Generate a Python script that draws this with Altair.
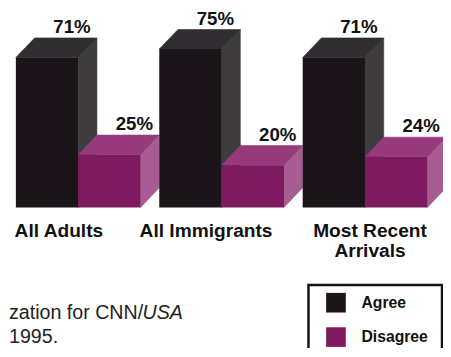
import altair as alt
import pandas as pd

# ---------------- data ----------------
categories = ["All Adults", "All Immigrants", "Most Recent Arrivals"]
label_lines = [["All Adults"], ["All Immigrants"], ["Most Recent", "Arrivals"]]
agree = [71, 75, 71]
disagree = [25, 20, 24]
series = ["Agree", "Disagree"]
note_line1 = ["zation for CNN/", "USA"]
note_line2 = "1995."

# ---------------- layout / style ----------------
W, H = 443, 340
UNIT = 63.5          # px per bar width
X0 = 8               # px offset of first bar
GROUP_STEP = 2.3     # bar widths between group starts
DEPTH_X = 0.3        # depth in bar-width units
DEPTH_Y = 9.3        # depth in percent units
Y_ZERO = 200         # px of the 0 % baseline
PX_PER_PCT = 2.15
LABEL_NUDGE = [-0.03, 0.03, 0.36]

FONT = "Liberation Sans"
colors = {
    "Agree": {"front": "#1b1519", "top": "#302e30", "side": "#3e3c3d"},
    "Disagree": {"front": "#7e1a5f", "top": "#963a7b", "side": "#a85c92"},
}

xs = alt.Scale(domain=[-X0 / UNIT, (W - X0) / UNIT], nice=False, zero=False)
ys = alt.Scale(domain=[-(H - Y_ZERO) / PX_PER_PCT, Y_ZERO / PX_PER_PCT], nice=False, zero=False)

fronts, tops, sides, pct = [], [], [], []
for gi, cat in enumerate(categories):
    g = gi * GROUP_STEP
    for k, (s, v) in enumerate(zip(series, [agree[gi], disagree[gi]])):
        x = g + k
        fid = f"{gi}-{s}"
        fronts.append(dict(x=x, x2=x + 1, y=0, y2=v, fill=colors[s]["front"], series=s))
        tops += [
            dict(face=fid, x=x, y=v, y2=v, fill=colors[s]["top"]),
            dict(face=fid, x=x + DEPTH_X, y=v, y2=v + DEPTH_Y, fill=colors[s]["top"]),
            dict(face=fid, x=x + 1, y=v, y2=v + DEPTH_Y, fill=colors[s]["top"]),
            dict(face=fid, x=x + 1 + DEPTH_X, y=v + DEPTH_Y, y2=v + DEPTH_Y, fill=colors[s]["top"]),
        ]
        sides += [
            dict(face=fid, x=x + 1, y=0, y2=v, fill=colors[s]["side"]),
            dict(face=fid, x=x + 1 + DEPTH_X, y=DEPTH_Y, y2=v + DEPTH_Y, fill=colors[s]["side"]),
        ]
        pct.append(dict(x=x + 0.5 + 0.4, y=v + DEPTH_Y + 2.3, text=f"{v}%"))

labels = pd.DataFrame([
    dict(x=gi * GROUP_STEP + 0.72 + LABEL_NUDGE[gi], y=-13.8, text=lines)
    for gi, lines in enumerate(label_lines)
])

df_front = pd.DataFrame(fronts)
df_top = pd.DataFrame(tops)
df_side = pd.DataFrame(sides)
df_pct = pd.DataFrame(pct)

X = alt.X("x:Q", scale=xs, axis=None)
Y = alt.Y("y:Q", scale=ys, axis=None, stack=None)

side_layer = alt.Chart(df_side).mark_area(opacity=1, strokeWidth=0.6).encode(
    x=X, y=Y, y2="y2:Q", detail="face:N",
    color=alt.Color("fill:N", scale=None), stroke=alt.Stroke("fill:N", scale=None))
top_layer = alt.Chart(df_top).mark_area(opacity=1, strokeWidth=0.6).encode(
    x=X, y=Y, y2="y2:Q", detail="face:N",
    color=alt.Color("fill:N", scale=None), stroke=alt.Stroke("fill:N", scale=None))
front_layer = alt.Chart(df_front).mark_rect(opacity=1).encode(
    x=X, x2="x2:Q", y=Y, y2="y2:Q", color=alt.Color("fill:N", scale=None))

pct_layer = alt.Chart(df_pct).mark_text(
    font=FONT, fontSize=19, fontWeight="bold", baseline="alphabetic", align="center", color="#111"
).encode(x=X, y=Y, text="text:N")

label_layer = alt.Chart(labels).mark_text(
    font=FONT, fontSize=19.5, fontWeight="bold", baseline="alphabetic", align="center",
    color="#111", lineHeight=21
).encode(x=X, y=Y, text="text")

# footnote
note_df = pd.DataFrame([dict(t=note_line1[0])])
note1 = alt.Chart(note_df).mark_text(font=FONT, fontSize=20, align="left", baseline="alphabetic",
                                     color="#222").encode(
    x=alt.value(1), y=alt.value(314), text="t:N")
note_df2 = pd.DataFrame([dict(t=note_line1[1])])
note2 = alt.Chart(note_df2).mark_text(font=FONT, fontSize=20, fontStyle="italic", align="left",
                                      baseline="alphabetic", color="#222").encode(
    x=alt.value(137), y=alt.value(314), text="t:N")
note_df3 = pd.DataFrame([dict(t=note_line2)])
note3 = alt.Chart(note_df3).mark_text(font=FONT, fontSize=20, align="left", baseline="alphabetic",
                                      color="#222").encode(
    x=alt.value(1), y=alt.value(338), text="t:N")

# legend (drawn manually)
leg_box = alt.Chart(pd.DataFrame([{"a": 1}])).mark_rect(
    fill="white", stroke="#111", strokeWidth=2.5).encode(
    x=alt.value(306), x2=alt.value(442), y=alt.value(279), y2=alt.value(348))
leg_df = pd.DataFrame([
    dict(s=series[0], c=colors[series[0]]["front"], y0=287, y1=307, ty=302),
    dict(s=series[1], c=colors[series[1]]["front"], y0=322, y1=342, ty=337),
])
leg_sw = alt.Chart(leg_df).mark_rect().encode(
    x=alt.value(324), x2=alt.value(344), y=alt.Y("y0:Q", scale=None), y2="y1:Q",
    color=alt.Color("c:N", scale=None))
leg_tx = alt.Chart(leg_df).mark_text(font=FONT, fontSize=16, fontWeight="bold", align="left",
                                     baseline="alphabetic", color="#111").encode(
    x=alt.value(360), y=alt.Y("ty:Q", scale=None), text="s:N")

chart = alt.layer(
    side_layer, top_layer, front_layer, pct_layer, label_layer,
    note1, note2, note3, leg_box, leg_sw, leg_tx
).properties(
    width=W, height=H, padding=0, autosize=alt.AutoSizeParams(type="none")
).configure_view(stroke=None).resolve_scale(color="independent", stroke="independent")

chart.save("out.html", embed_options={"renderer": "svg", "actions": False})
